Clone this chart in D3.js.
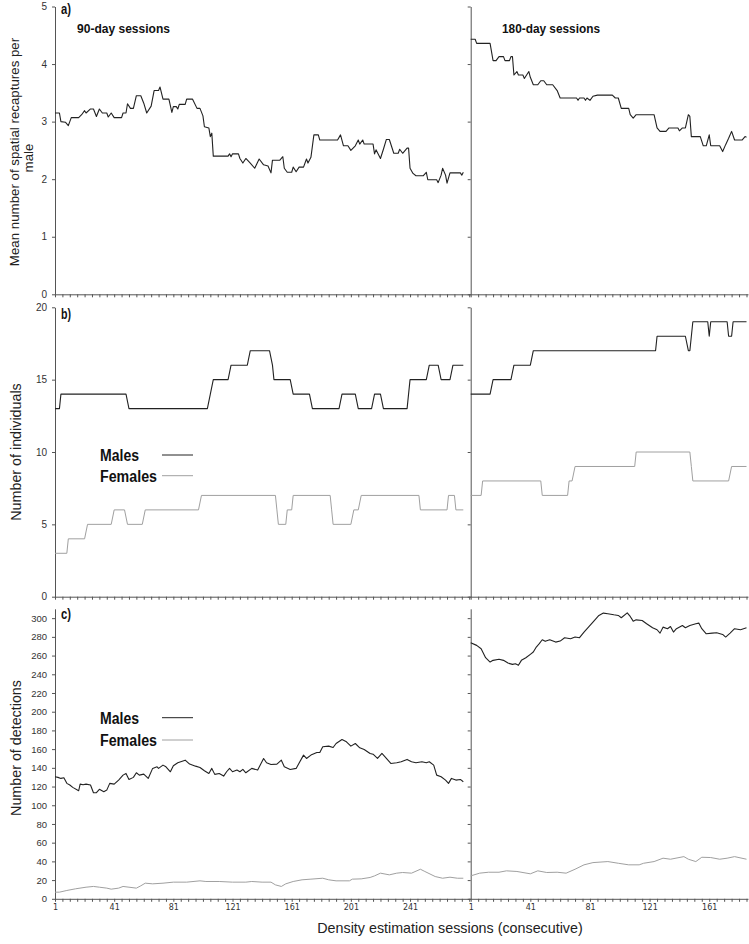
<!DOCTYPE html>
<html>
<head>
<meta charset="utf-8">
<script src="https://cdn.jsdelivr.net/npm/d3@7"></script>
<style>
  html, body { margin: 0; padding: 0; background: #fff; }
  svg { display: block; }
  text { font-family: "Liberation Sans", Arial, sans-serif; }
</style>
</head>
<body>
<svg id="chart" width="749" height="944"></svg>
<script>
// ---------------- DATA ----------------
const panelLabels = ["a)", "b)", "c)"];
const sessionTitles = ["90-day sessions", "180-day sessions"];
const seriesNames = ["Males", "Females"];
const xTickLabels90 = [1, 41, 81, 121, 161, 201, 241];
const xTickLabels180 = [1, 41, 81, 121, 161];
const yTicksA = [0, 1, 2, 3, 4, 5];
const yTicksB = [0, 5, 10, 15, 20];
const yTicksC = [0, 20, 40, 60, 80, 100, 120, 140, 160, 180, 200, 220, 240, 260, 280, 300];

// a) mean number of spatial recaptures per male  [session, value]
const recap90 = [[1,3.15],[4,3.15],[5,3.0],[8,2.99],[10,2.93],[12,3.07],[17,3.07],[19,3.12],[21,3.19],[22,3.15],[25,3.22],[27,3.22],[29,3.09],[31,3.22],[33,3.15],[36,3.15],[37,3.08],[39,3.15],[41,3.07],[46,3.07],[47,3.15],[49,3.15],[50,3.31],[52,3.23],[54,3.23],[56,3.45],[59,3.45],[61,3.32],[63,3.15],[66,3.27],[68,3.54],[71,3.54],[72,3.6],[74,3.39],[78,3.39],[80,3.16],[81,3.26],[83,3.26],[84,3.22],[85,3.30],[89,3.30],[90,3.39],[94,3.39],[97,3.23],[99,3.23],[101,3.10],[102,2.91],[105,2.89],[106,2.74],[107,2.80],[108,2.40],[118,2.40],[119,2.44],[120,2.39],[121,2.44],[125,2.44],[126,2.36],[128,2.28],[130,2.36],[133,2.28],[136,2.19],[139,2.35],[142,2.25],[145,2.23],[147,2.11],[148,2.33],[153,2.33],[155,2.39],[156,2.19],[158,2.12],[161,2.12],[162,2.21],[164,2.13],[166,2.21],[169,2.21],[171,2.35],[172,2.28],[174,2.38],[176,2.77],[179,2.77],[180,2.68],[192,2.68],[194,2.77],[196,2.58],[199,2.58],[201,2.50],[204,2.58],[206,2.68],[207,2.61],[209,2.68],[210,2.61],[216,2.61],[217,2.44],[218,2.51],[221,2.36],[223,2.52],[225,2.69],[227,2.69],[230,2.45],[233,2.45],[234,2.52],[236,2.45],[239,2.54],[240,2.54],[241,2.19],[243,2.10],[245,2.06],[250,2.06],[252,2.12],[253,1.99],[259,1.99],[260,1.94],[262,2.07],[263,2.19],[265,2.07],[266,1.93],[268,2.11],[275,2.11],[276,2.07],[277,2.12]];
const recap180 = [[1,4.43],[4,4.43],[5,4.36],[14,4.36],[16,4.06],[18,4.06],[20,4.13],[23,4.13],[24,4.06],[27,4.06],[28,4.13],[29,4.13],[30,3.81],[32,3.87],[33,3.81],[36,3.81],[37,3.75],[40,3.87],[41,3.77],[43,3.64],[46,3.64],[48,3.71],[50,3.71],[52,3.64],[56,3.64],[59,3.54],[61,3.41],[72,3.41],[73,3.37],[74,3.41],[77,3.41],[78,3.37],[79,3.41],[81,3.37],[83,3.44],[86,3.46],[96,3.46],[98,3.41],[100,3.41],[102,3.23],[107,3.23],[108,3.12],[110,3.06],[112,3.12],[124,3.12],[126,2.89],[128,2.83],[132,2.83],[134,2.89],[140,2.89],[141,2.84],[143,2.89],[145,2.89],[147,3.12],[148,3.09],[149,2.74],[155,2.74],[157,2.58],[159,2.58],[161,2.77],[162,2.58],[168,2.58],[170,2.48],[172,2.60],[174,2.71],[176,2.83],[178,2.68],[183,2.68],[185,2.74],[186,2.73]];

// b) number of individuals
const indMales90 = [[1,13],[4,13],[5,14],[49,14],[51,13],[104,13],[106,14],[108,15],[118,15],[120,16],[131,16],[133,17],[146,17],[148,16],[149,15],[160,15],[162,14],[173,14],[175,13],[193,13],[195,14],[204,14],[206,13],[215,13],[217,14],[221,14],[223,13],[239,13],[241,15],[252,15],[254,16],[260,16],[262,15],[268,15],[270,16],[277,16]];
const indFemales90 = [[1,3],[9,3],[10,4],[21,4],[23,5],[39,5],[41,6],[48,6],[50,5],[60,5],[62,6],[98,6],[100,7],[150,7],[151,6],[152,5],[157,5],[158,6],[161,6],[162,7],[187,7],[188,6],[189,5],[201,5],[203,6],[206,6],[208,7],[247,7],[248,6],[266,6],[267,7],[271,7],[272,6],[277,6]];
const indMales180 = [[1,14],[14,14],[16,15],[28,15],[30,16],[41,16],[43,17],[125,17],[126,18],[145,18],[147,17],[148,17],[150,19],[160,19],[161,18],[162,19],[173,19],[174,18],[176,18],[177,19],[186,19]];
const indFemales180 = [[1,7],[8,7],[9,8],[48,8],[49,7],[66,7],[67,8],[69,8],[71,9],[111,9],[112,10],[148,10],[149,9],[150,8],[174,8],[176,9],[186,9]];

// c) number of detections
const detMales90 = [[1,130.5],[3,129.8],[5,128.7],[7,129.4],[9,123.4],[11,121.6],[13,119.1],[17,115.5],[18,122.6],[20,121.9],[22,122.6],[25,121.6],[27,113.4],[29,113.4],[31,117],[34,114.5],[36,116.2],[38,123.4],[41,122.6],[44,126.9],[47,132.2],[49,134],[51,127.6],[54,129.8],[56,134.7],[58,132.2],[61,133.3],[64,128.7],[67,139.4],[70,141.1],[71,139.4],[74,142.9],[76,141.1],[79,135.8],[81,142.2],[84,145.4],[89,148.2],[92,144],[96,141.8],[99,140.4],[102,136.9],[105,134],[107,139.4],[109,133],[112,134],[115,131.2],[117,135.8],[119,139.4],[121,135.8],[124,137.6],[126,135.8],[128,138.3],[130,134.7],[134,139.4],[138,137.6],[142,150],[144,145.4],[147,143.6],[151,144],[154,148.2],[156,141.1],[160,138.3],[164,139.4],[169,153.6],[171,150],[174,153.6],[178,156.4],[180,156.4],[182,162.5],[186,163.2],[189,161.7],[191,166],[195,170.3],[198,167.8],[201,163.2],[204,166],[207,161.4],[210,159.6],[214,155.4],[216,154.6],[219,150],[222,155.4],[225,150],[228,144.7],[232,145.4],[235,146.5],[239,149],[242,146.5],[245,145.4],[249,146.5],[252,145.4],[254,146.5],[257,142.9],[259,132.2],[262,130.5],[265,126.9],[267,123.4],[269,128.7],[272,126.9],[275,127.6],[277,125.1]];
const detFemales90 = [[1,7.1],[4,7.1],[9,8.9],[15,10.7],[22,12.4],[27,13.2],[31,12.4],[36,11.4],[39,10.3],[44,11.4],[47,13.2],[51,12.4],[56,11.4],[59,13.9],[62,16.7],[67,16],[74,16.7],[81,17.8],[90,17.8],[99,19.2],[103,18.5],[112,18.5],[121,17.8],[130,17.8],[134,18.5],[141,17.8],[147,17.8],[150,14.9],[154,13.2],[157,16],[162,18.5],[168,20.3],[174,21],[182,22],[186,20.3],[191,19.2],[200,19.2],[202,21],[208,21.3],[214,22.8],[217,24.5],[221,27.4],[227,25.6],[232,27.4],[236,28.1],[242,27.4],[248,31.6],[251,29.2],[258,23.8],[263,22],[268,23.1],[273,22],[277,22]];
const detMales180 = [[1,273.7],[5,270.9],[8,267.3],[11,257.7],[14,253.1],[16,254.9],[20,256],[23,254.9],[26,252],[29,250.6],[31,251.3],[33,249.6],[35,254.9],[38,257.7],[41,261.3],[43,263.8],[45,269.1],[47,272.7],[49,276.9],[51,275.2],[54,276.9],[58,274.4],[61,275.5],[64,279.1],[68,278],[71,279.8],[74,279.1],[77,285.1],[80,290.4],[83,295.8],[87,302.9],[90,305.4],[93,304.7],[97,303.6],[100,302.9],[102,300.4],[106,305.7],[108,301.8],[110,296.8],[112,298.2],[116,297.5],[119,294],[123,289.7],[126,287.6],[128,284],[130,290.4],[133,288.7],[135,291.1],[137,285.1],[139,288.7],[143,292.2],[145,289.7],[148,292.2],[152,294],[154,294.7],[156,288.7],[159,283.3],[163,284],[166,284.4],[170,282.6],[172,279.8],[175,284],[178,288.7],[182,287.6],[184,288.7],[186,289.7]];
const detFemales180 = [[1,24.5],[7,27.4],[13,28.4],[20,28.4],[25,29.9],[32,29.2],[41,26.7],[46,29.9],[52,28.1],[59,28.4],[65,27.4],[71,31.6],[77,36.3],[83,38.7],[93,39.8],[100,38],[107,36.3],[114,36.3],[117,38],[124,39.8],[130,43.4],[135,42.3],[144,45.1],[147,42.3],[152,39.8],[156,44.4],[162,44.1],[168,42.3],[173,43.4],[178,45.1],[186,42.3]];

// ---------------- DRAWING ----------------
const svg = d3.select("#chart");
const AXIS = "#555", MALE = "#222", FEMALE = "#a0a0a0";

const x90 = d3.scaleLinear().domain([1, 282]).range([55, 470.7]);
const x180 = d3.scaleLinear().domain([1, 187]).range([470.7, 748]);

const panels = [
  { y: d3.scaleLinear().domain([0, 5]).range([294.3, 6.5]), ticks: yTicksA, fs: 10,
    series: [[recap90, recap180, MALE]], label: panelLabels[0], labelY: 13.5 },
  { y: d3.scaleLinear().domain([0, 20]).range([596.7, 307.3]), ticks: yTicksB, fs: 10,
    series: [[indMales90, indMales180, MALE], [indFemales90, indFemales180, FEMALE]], label: panelLabels[1], labelY: 318.5,
    legend: [455, 475.7] },
  { y: d3.scaleLinear().domain([0, 310]).range([898.8, 608.8]), ticks: yTicksC, fs: 9.5,
    series: [[detMales90, detMales180, MALE], [detFemales90, detFemales180, FEMALE]], label: panelLabels[2], labelY: 618.5,
    legend: [717.7, 740], xLabels: true }
];

function range5(max) { const a = []; for (let s = 1; s <= max; s += 5) a.push(s); return a; }

panels.forEach(p => {
  const y0 = p.y(0);
  // x axes
  const ax90 = d3.axisBottom(x90).tickValues(range5(281)).tickSize(3).tickSizeOuter(0)
    .tickFormat(d => (p.xLabels && xTickLabels90.includes(d)) ? d : "");
  const ax180 = d3.axisBottom(x180).tickValues(range5(186)).tickSize(3).tickSizeOuter(0)
    .tickFormat(d => (p.xLabels && xTickLabels180.includes(d)) ? d : "");
  [ax90, ax180].forEach(ax => {
    const g = svg.append("g").attr("transform", `translate(0,${y0})`).call(ax);
    g.selectAll("path, line").attr("stroke", AXIS);
    g.selectAll("text").attr("fill", "#333").style("font-family", "'DejaVu Sans', sans-serif").style("font-size", "8px");
  });
  // y axes
  const ayL = d3.axisLeft(p.y).tickValues(p.ticks).tickSize(3).tickSizeOuter(0).tickPadding(5)
    .tickFormat(d3.format("d"));
  const gL = svg.append("g").attr("transform", "translate(55,0)").call(ayL);
  gL.selectAll("path, line").attr("stroke", AXIS);
  gL.selectAll("text").attr("fill", "#333").style("font-size", p.fs + "px");
  const ayR = d3.axisLeft(p.y).tickValues(p.ticks).tickSize(3).tickSizeOuter(0).tickFormat("");
  const gR = svg.append("g").attr("transform", `translate(${x180(1)},0)`).call(ayR);
  gR.selectAll("path, line").attr("stroke", AXIS);

  // series
  p.series.forEach(([d90, d180, col]) => {
    [[d90, x90], [d180, x180]].forEach(([data, xs]) => {
      svg.append("path").datum(data)
        .attr("fill", "none").attr("stroke", col).attr("stroke-width", col === MALE ? 1.1 : 1)
        .attr("stroke-linejoin", "round")
        .attr("d", d3.line().x(d => xs(d[0])).y(d => p.y(d[1])));
    });
  });

  // panel label
  svg.append("text").attr("x", 61).attr("y", p.labelY).text(p.label)
    .style("font-weight", "bold").style("font-size", "14px")
    .attr("textLength", 10).attr("lengthAdjust", "spacingAndGlyphs").attr("fill", "#111");

  // legend
  if (p.legend) {
    p.legend.forEach((ly, i) => {
      svg.append("text").attr("x", 100).attr("y", ly + 6).text(seriesNames[i])
        .style("font-weight", "bold").style("font-size", "16px").attr("fill", "#111")
        .attr("textLength", i === 0 ? 39 : 57).attr("lengthAdjust", "spacingAndGlyphs");
      svg.append("line").attr("x1", 162).attr("x2", 193).attr("y1", ly).attr("y2", ly)
        .attr("stroke", i === 0 ? MALE : FEMALE).attr("stroke-width", 1);
    });
  }
});

// session titles
svg.append("text").attr("x", 77).attr("y", 33.3).text(sessionTitles[0])
  .style("font-weight", "bold").style("font-size", "13px").attr("fill", "#111")
  .attr("textLength", 93).attr("lengthAdjust", "spacingAndGlyphs");
svg.append("text").attr("x", 502).attr("y", 33.3).text(sessionTitles[1])
  .style("font-weight", "bold").style("font-size", "13px").attr("fill", "#111")
  .attr("textLength", 98).attr("lengthAdjust", "spacingAndGlyphs");

// axis titles
function vTitle(x, y, txt, fs) {
  svg.append("text").attr("transform", `translate(${x},${y}) rotate(-90)`)
    .attr("text-anchor", "middle").style("font-size", fs + "px").attr("fill", "#222").text(txt);
}
vTitle(18.5, 152, "Mean number of spatial recaptures per", 13.3);
vTitle(33, 158, "male", 13.3);
vTitle(21, 452, "Number of individuals", 14.3);
vTitle(21, 748, "Number of detections", 14.3);

svg.append("text").attr("x", 450).attr("y", 933).attr("text-anchor", "middle")
  .style("font-size", "14.3px").attr("fill", "#222").text("Density estimation sessions (consecutive)");
</script>
</body>
</html>
